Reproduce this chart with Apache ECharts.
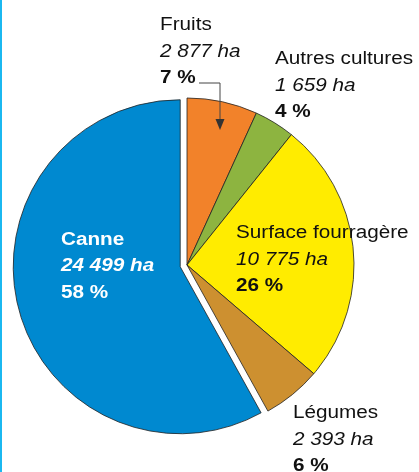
<!DOCTYPE html>
<html>
<head>
<meta charset="utf-8">
<script src="https://cdn.jsdelivr.net/npm/echarts@6/dist/echarts.min.js"></script>
<style>
  html, body { margin: 0; padding: 0; background: #fff; }
  #chart { width: 419px; height: 472px; }
</style>
</head>
<body>
<div id="chart"></div>
<script>
// surfaces agricoles, clockwise from 12 o'clock
var categories = ['Fruits', 'Autres cultures', 'Surface fourragère', 'Légumes', 'Canne'];
var hectares = [2877, 1659, 10775, 2393, 24499];
var colors = ['#F2822A', '#8DB440', '#FFEC00', '#CD9030', '#0089D0'];

var total = hectares.reduce(function (a, b) { return a + b; }, 0);

function fmt(n) {
  return String(n).replace(/\B(?=(\d{3})+(?!\d))/g, ' ');
}

// label block anchor: left x, centre y of first line
var labelPos = [[160, 25], [275, 59], [236, 233], [293, 413], [61, 240]];
var font = "'Liberation Sans', Arial, sans-serif";

var labels = [];
categories.forEach(function (name, i) {
  var pct = Math.round(hectares[i] / total * 100);
  var white = i === 4;
  var lines = [
    { t: name, it: 'normal', b: white ? 'bold' : 'normal' },
    { t: fmt(hectares[i]) + ' ha', it: 'italic', b: white ? 'bold' : 'normal' },
    { t: pct + ' %', it: 'normal', b: 'bold' }
  ];
  lines.forEach(function (l, k) {
    labels.push({
      type: 'text',
      z: 100,
      x: labelPos[i][0],
      y: labelPos[i][1] + k * 26.5,
      scaleX: 1.15,
      style: {
        text: l.t,
        fill: white ? '#fff' : '#111',
        fontFamily: font,
        fontSize: 18,
        fontStyle: l.it,
        fontWeight: l.b,
        align: 'left',
        verticalAlign: 'middle'
      }
    });
  });
});

var chart = echarts.init(document.getElementById('chart'));

chart.setOption({
  animation: false,
  graphic: [
    { type: 'rect', z: 100, shape: { x: 0, y: 0, width: 2, height: 472 }, style: { fill: '#1BB8F0' } },
    {
      type: 'polyline',
      z: 100,
      shape: { points: [[199, 83], [220, 83], [220, 121]] },
      style: { stroke: '#444', lineWidth: 1, fill: null }
    },
    {
      type: 'polygon',
      z: 100,
      shape: { points: [[215.5, 119], [224.5, 119], [220, 130]] },
      style: { fill: '#333' }
    }
  ].concat(labels),
  series: [{
    type: 'pie',
    center: [187, 265],
    radius: 167,
    startAngle: 90,
    selectedMode: 'single',
    selectedOffset: 7,
    emphasis: { disabled: true },
    itemStyle: { borderColor: '#222', borderWidth: 0.8 },
    label: { show: false },
    labelLine: { show: false },
    data: categories.map(function (name, i) {
      return {
        name: name,
        value: hectares[i],
        selected: i === 4,
        itemStyle: { color: colors[i] }
      };
    })
  }]
});
</script>
</body>
</html>
